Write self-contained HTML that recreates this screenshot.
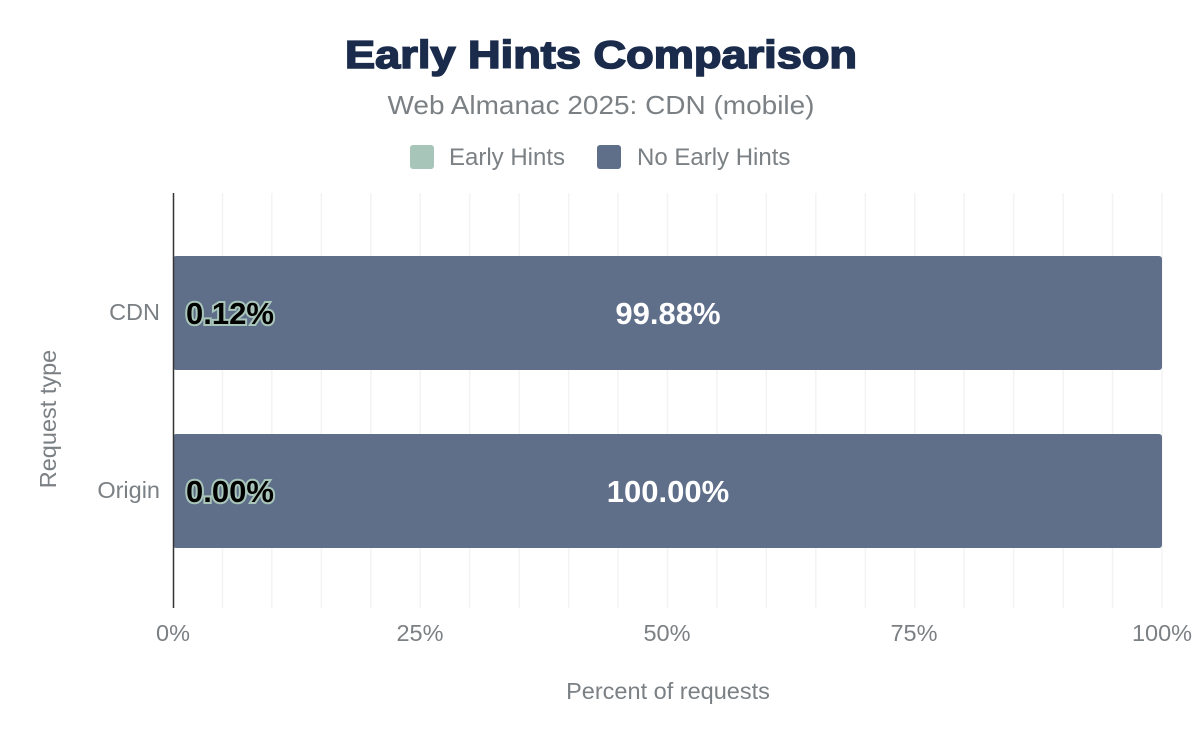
<!DOCTYPE html>
<html><head><meta charset="utf-8"><style>body{margin:0;background:#fff}</style></head>
<body>
<svg width="1200" height="742" xmlns="http://www.w3.org/2000/svg" font-family="Liberation Sans, Arial, sans-serif">
<rect width="1200" height="742" fill="#fff"/>
<text x="601" y="68" text-anchor="middle" font-size="39" font-weight="bold" fill="#1a2b4b" stroke="#1a2b4b" stroke-width="1.6" textLength="512" lengthAdjust="spacingAndGlyphs">Early Hints Comparison</text>
<text x="601" y="114" text-anchor="middle" font-size="26" fill="#7b8084" textLength="427" lengthAdjust="spacingAndGlyphs">Web Almanac 2025: CDN (mobile)</text>
<rect x="410" y="145" width="24" height="24" rx="3" fill="#a8c5b9"/>
<text x="449" y="165" font-size="24" fill="#7b8084">Early Hints</text>
<rect x="597" y="145" width="24" height="24" rx="3" fill="#5f6f8a"/>
<text x="637" y="165" font-size="24" fill="#7b8084">No Early Hints</text>
<g stroke="#f3f3f3" stroke-width="1.5">
<line x1="222.45" y1="193" x2="222.45" y2="608"/><line x1="271.9" y1="193" x2="271.9" y2="608"/><line x1="321.35" y1="193" x2="321.35" y2="608"/><line x1="370.8" y1="193" x2="370.8" y2="608"/><line x1="420.25" y1="193" x2="420.25" y2="608"/><line x1="469.7" y1="193" x2="469.7" y2="608"/><line x1="519.15" y1="193" x2="519.15" y2="608"/><line x1="568.6" y1="193" x2="568.6" y2="608"/><line x1="618.05" y1="193" x2="618.05" y2="608"/><line x1="667.5" y1="193" x2="667.5" y2="608"/><line x1="716.95" y1="193" x2="716.95" y2="608"/><line x1="766.4" y1="193" x2="766.4" y2="608"/><line x1="815.85" y1="193" x2="815.85" y2="608"/><line x1="865.3" y1="193" x2="865.3" y2="608"/><line x1="914.75" y1="193" x2="914.75" y2="608"/><line x1="964.2" y1="193" x2="964.2" y2="608"/><line x1="1013.65" y1="193" x2="1013.65" y2="608"/><line x1="1063.1" y1="193" x2="1063.1" y2="608"/><line x1="1112.55" y1="193" x2="1112.55" y2="608"/><line x1="1162" y1="193" x2="1162" y2="608"/>
</g>
<rect x="173" y="256" width="989" height="114" rx="3" fill="#5f6f8a"/>
<rect x="173" y="434" width="989" height="114" rx="3" fill="#5f6f8a"/>
<line x1="173.5" y1="193" x2="173.5" y2="608" stroke="#333" stroke-width="1.5"/>
<g font-size="31" font-weight="bold">
<text x="186" y="324" fill="#000" stroke="#a8c5b9" stroke-width="4" paint-order="stroke">0.12%</text>
<text x="186" y="502" fill="#000" stroke="#a8c5b9" stroke-width="4" paint-order="stroke">0.00%</text>
<text x="668" y="324" text-anchor="middle" fill="#fff">99.88%</text>
<text x="668" y="502" text-anchor="middle" fill="#fff">100.00%</text>
</g>
<g font-size="23.5" fill="#7b8084">
<text x="160" y="320" text-anchor="end">CDN</text>
<text x="160" y="498" text-anchor="end">Origin</text>
<text x="173" y="641" text-anchor="middle">0%</text>
<text x="420" y="641" text-anchor="middle">25%</text>
<text x="667" y="641" text-anchor="middle">50%</text>
<text x="914" y="641" text-anchor="middle">75%</text>
<text x="1162" y="641" text-anchor="middle">100%</text>
<text x="668" y="699" text-anchor="middle">Percent of requests</text>
<text transform="translate(56,419) rotate(-90)" text-anchor="middle">Request type</text>
</g>
</svg>
</body></html>
